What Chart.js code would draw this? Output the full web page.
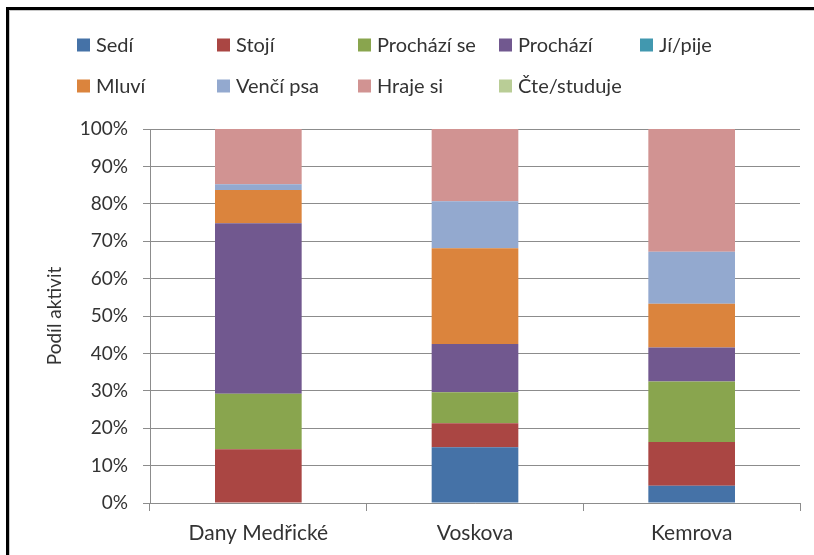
<!DOCTYPE html>
<html>
<head>
<meta charset="utf-8">
<script src="https://cdn.jsdelivr.net/npm/chart.js@4/dist/chart.umd.min.js"></script>
<style>
  html, body { margin: 0; padding: 0; background: #fff; }
  #wrap { width: 814px; height: 555px; position: relative; }
</style>
</head>
<body>
<div id="wrap"><canvas id="chart"></canvas></div>
<script>
// categories (locations)
const locations = ['Dany Medřické', 'Voskova', 'Kemrova'];

// share of each activity, in percent
const sedi = [0, 14.9, 4.6];
const stoji = [14.4, 6.4, 11.7];
const prochaziSe = [14.8, 8.3, 16.2];
const prochazi = [45.6, 12.9, 9.1];
const jiPije = [0, 0, 0];
const mluvi = [8.9, 25.6, 11.7];
const venciPsa = [1.5, 12.6, 13.9];
const hrajeSi = [14.8, 19.3, 32.8];
const cteStuduje = [0, 0, 0];

const yTicks = [0, 10, 20, 30, 40, 50, 60, 70, 80, 90, 100];

const FONT = 'Lato';
const TEXT = '#333333';
const GRID = '#8c8c8c';

const series = [
  ['Sedí', sedi, '#4572A7'],
  ['Stojí', stoji, '#AA4643'],
  ['Prochází se', prochaziSe, '#89A54E'],
  ['Prochází', prochazi, '#71588F'],
  ['Jí/pije', jiPije, '#4198AF'],
  ['Mluví', mluvi, '#DB843D'],
  ['Venčí psa', venciPsa, '#93A9CF'],
  ['Hraje si', hrajeSi, '#D19392'],
  ['Čte/studuje', cteStuduje, '#B9CD96']
];

// legend laid out in a fixed 5-column grid, like the spreadsheet one
const gridLegend = {
  id: 'gridLegend',
  afterDraw(chart) {
    const ctx = chart.ctx;
    const cols = [77, 217, 358, 499, 640];
    const rows = [45, 86];
    ctx.save();
    ctx.font = '20px ' + FONT;
    ctx.textBaseline = 'middle';
    ctx.textAlign = 'left';
    chart.data.datasets.forEach((ds, i) => {
      const x = cols[i % 5];
      const y = rows[Math.floor(i / 5)];
      ctx.fillStyle = ds.backgroundColor;
      ctx.fillRect(x, y - 6.5, 13, 13);
      ctx.fillStyle = TEXT;
      ctx.fillText(ds.label, x + 19, y + 1);
    });
    ctx.restore();
  }
};

// the black frame around the chart object
const frame = {
  id: 'frame',
  beforeDraw(chart) {
    const ctx = chart.ctx;
    ctx.save();
    ctx.fillStyle = '#fff';
    ctx.fillRect(0, 0, chart.width, chart.height);
    ctx.fillStyle = '#000';
    ctx.fillRect(6, 7, chart.width - 6, 3);
    ctx.fillRect(6, 7, 3, chart.height - 7);
    ctx.fillStyle = '#c8c8c8';
    ctx.fillRect(9, 10, chart.width - 9, 1);
    ctx.fillRect(9, 10, 1, chart.height - 10);
    ctx.restore();
  }
};

new Chart(document.getElementById('chart'), {
  type: 'bar',
  data: {
    labels: locations,
    datasets: series.map(([label, data, color]) => ({
      label,
      data,
      backgroundColor: color,
      borderWidth: 0,
      categoryPercentage: 1,
      barPercentage: 0.4
    }))
  },
  options: {
    responsive: true,
    maintainAspectRatio: false,
    animation: false,
    layout: { padding: { top: 129, right: 14, left: 0, bottom: 0 } },
    plugins: {
      legend: { display: false },
      tooltip: { enabled: false }
    },
    scales: {
      x: {
        stacked: true,
        afterFit: s => { s.height = 52; },
        border: { display: true, color: GRID },
        grid: { offset: true, drawOnChartArea: false, drawTicks: true, tickLength: 8, color: GRID },
        ticks: { color: TEXT, font: { family: FONT, size: 21 }, padding: 10 }
      },
      y: {
        stacked: true,
        min: 0,
        max: 100,
        afterFit: s => { s.width = 150; },
        afterBuildTicks: s => { s.ticks = yTicks.map(v => ({ value: v })); },
        border: { display: true, color: GRID },
        grid: { color: GRID, tickLength: 7 },
        ticks: {
          color: TEXT,
          font: { family: FONT, size: 19 },
          padding: 15,
          callback: v => v + '%'
        },
        title: {
          display: true,
          text: 'Podíl aktivit',
          color: TEXT,
          font: { family: FONT, size: 19 },
          padding: { top: 43, bottom: 0 }
        }
      }
    }
  },
  plugins: [frame, gridLegend]
});
</script>
</body>
</html>
